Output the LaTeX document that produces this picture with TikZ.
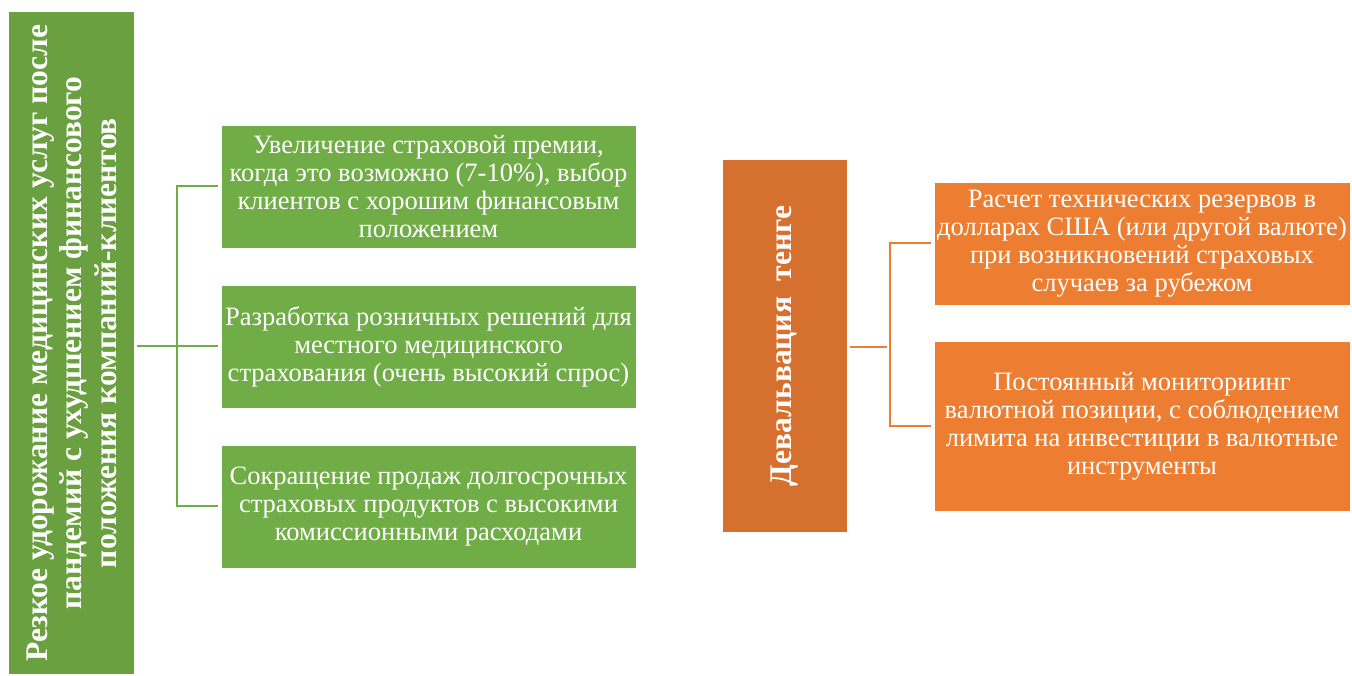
\documentclass[tikz,border=0pt]{standalone}
\usepackage{fontspec}
\setmainfont{Liberation Serif}
\definecolor{gdark}{RGB}{106,160,64}
\definecolor{glight}{RGB}{112,173,71}
\definecolor{odark}{RGB}{214,112,46}
\definecolor{olight}{RGB}{237,125,49}
\tikzset{
  mainbox/.style={rectangle, inner sep=0pt, text=white, align=center, rotate=90,
    font=\bfseries\fontsize{31.5}{34.5}\selectfont},
  childbox/.style={rectangle, inner sep=0pt, text=white, align=center,
    draw=white, line width=0.75pt, minimum width=415pt, minimum height=123pt,
    font=\fontsize{26.5}{28}\selectfont},
  conn/.style={line width=2pt, shorten <=3pt, shorten >=3pt}
}
\begin{document}
\begin{tikzpicture}[x=1pt,y=1pt]
\useasboundingbox (0,0) rectangle (1352,675);
% left (green) group
\node[mainbox, fill=gdark, minimum width=662pt, minimum height=125pt] (L) at (71.5,332)
  {Резкое удорожание медицинских услуг после\\
   пандемий с ухудшением финансового\\
   положения компаний-клиентов};
\node[childbox, fill=glight] (G1) at (428.5,488.5)
  {Увеличение страховой премии,\\когда это возможно (7-10\%), выбор\\клиентов с хорошим финансовым\\положением};
\node[childbox, fill=glight] (G2) at (428.5,328.5)
  {Разработка розничных решений для\\местного медицинского\\страхования (очень высокий спрос)};
\node[childbox, fill=glight] (G3) at (428.5,168.5)
  {Сокращение продаж долгосрочных\\страховых продуктов с высокими\\комиссионными расходами};
\coordinate (jL) at (177,328.5);
\draw[conn, glight] (L.south |- G2.west) -- (G2.west);
\draw[conn, glight] (G1.west) -| (jL) |- (G3.west);
% right (orange) group
\node[mainbox, fill=odark, minimum width=372pt, minimum height=124pt] (O) at (785,329)
  {Девальвация\ \ тенге};
\node[childbox, fill=olight, minimum width=416pt] (O1) at (1142,431.5)
  {Расчет технических резервов в\\долларах США (или другой валюте)\\при возникновений страховых\\случаев за рубежом};
\node[childbox, fill=olight, minimum width=416pt, minimum height=170pt] (O2) at (1142,249)
  {Постоянный мониториинг\\валютной позиции, с соблюдением\\лимита на инвестиции в валютные\\инструменты};
\coordinate (jO) at (890,328);
\draw[conn, olight] (O.south |- jO) -- (jO);
\draw[conn, olight] (O1.west) -| (jO) |- (O2.west);
\end{tikzpicture}
\end{document}
